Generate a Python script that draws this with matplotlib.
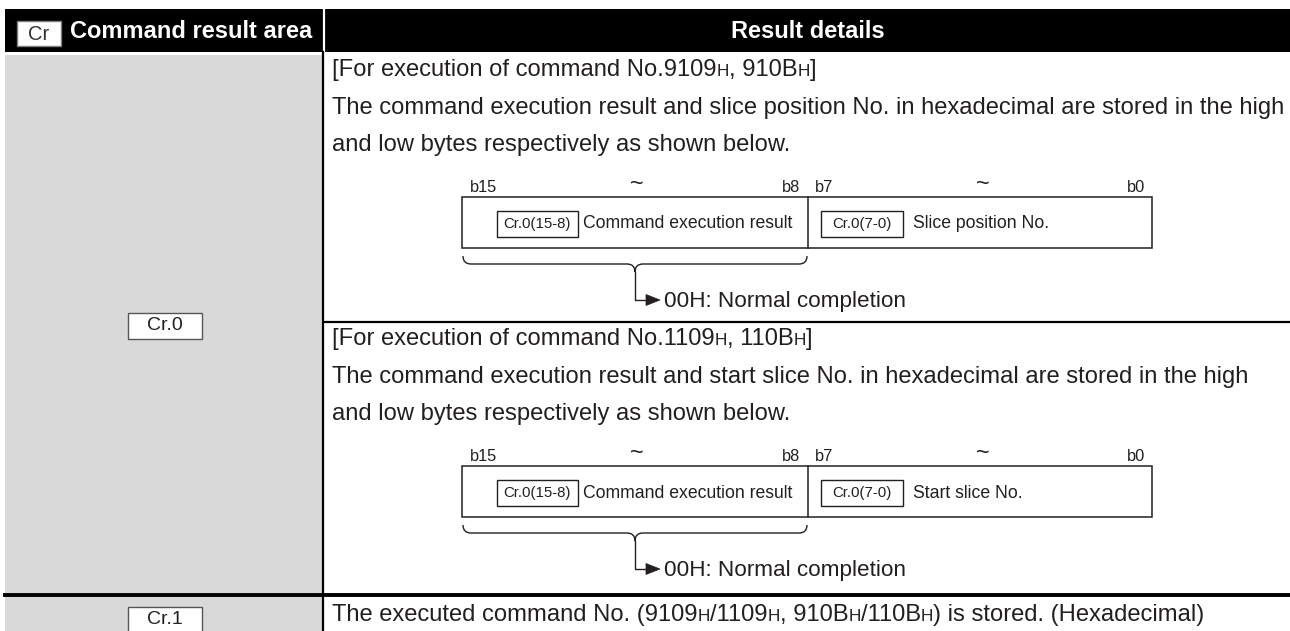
import matplotlib.pyplot as plt
from matplotlib.patches import Rectangle, PathPatch, Polygon
from matplotlib.path import Path

plt.rcParams['font.family'] = ['Liberation Sans', 'DejaVu Sans']

# text content
HEADER_TAG = "Cr"
HEADER_LEFT = "Command result area"
HEADER_RIGHT = "Result details"
ROW_LABELS = ["Cr.0", "Cr.1"]

# runs: (text, small "H" suffix flag)
SECTION_TITLES = [
    [("[For execution of command No.9109", 0), ("H", 1), (", 910B", 0), ("H", 1), ("]", 0)],
    [("[For execution of command No.1109", 0), ("H", 1), (", 110B", 0), ("H", 1), ("]", 0)],
]
SECTION_LINE2 = [
    "The command execution result and slice position No. in hexadecimal are stored in the high",
    "The command execution result and start slice No. in hexadecimal are stored in the high",
]
SECTION_LINE3 = "and low bytes respectively as shown below."
BIT_LABELS = ["b15", "b8", "b7", "b0"]
HIGH_TAG = "Cr.0(15-8)"
HIGH_TEXT = "Command execution result"
LOW_TAG = "Cr.0(7-0)"
LOW_TEXTS = ["Slice position No.", "Start slice No."]
COMPLETION = "00H: Normal completion"
CR1_RUNS = [("The executed command No. (9109", 0), ("H", 1), ("/1109", 0), ("H", 1),
            (", 910B", 0), ("H", 1), ("/110B", 0), ("H", 1),
            (") is stored. (Hexadecimal)", 0)]

INK = "#231f20"
GRAY = "#d9d9d9"
BODY = 17.1


def draw_runs(ax, x, y, runs, size, color=INK):
    renderer = ax.figure.canvas.get_renderer()
    for s, small in runs:
        t = ax.text(x, y, s, fontsize=size * 0.72 if small else size,
                    va="baseline", ha="left", color=color)
        x += t.get_window_extent(renderer).width


def draw_brace(ax, x0, x1, ytop, r):
    xm = (x0 + x1) / 2
    verts = [(x0, ytop), (x0, ytop + r), (x0 + r, ytop + r),
             (xm - r, ytop + r), (xm, ytop + r), (xm, ytop + 2 * r),
             (xm, ytop + r), (xm + r, ytop + r),
             (x1 - r, ytop + r), (x1, ytop + r), (x1, ytop)]
    codes = [Path.MOVETO, Path.CURVE3, Path.CURVE3,
             Path.LINETO, Path.CURVE3, Path.CURVE3,
             Path.CURVE3, Path.CURVE3,
             Path.LINETO, Path.CURVE3, Path.CURVE3]
    ax.add_patch(PathPatch(Path(verts, codes), fill=False, lw=1.0, ec=INK))
    return xm, ytop + 2 * r


def draw_section(ax, dy, k):
    draw_runs(ax, 332, 76 + dy, SECTION_TITLES[k], BODY)
    ax.text(332, 114 + dy, SECTION_LINE2[k], fontsize=BODY, va="baseline", color=INK)
    ax.text(332, 151 + dy, SECTION_LINE3, fontsize=BODY, va="baseline", color=INK)

    # bit labels
    ax.text(470, 192 + dy, BIT_LABELS[0], fontsize=11.8, va="baseline", color=INK)
    ax.text(800, 192 + dy, BIT_LABELS[1], fontsize=11.8, va="baseline", ha="right", color=INK)
    ax.text(815, 192 + dy, BIT_LABELS[2], fontsize=11.8, va="baseline", color=INK)
    ax.text(1145, 192 + dy, BIT_LABELS[3], fontsize=11.8, va="baseline", ha="right", color=INK)
    ax.text(637, 185 + dy, "~", fontsize=17, va="center", ha="center", color=INK)
    ax.text(983, 185 + dy, "~", fontsize=17, va="center", ha="center", color=INK)

    # register box
    ax.add_patch(Rectangle((462, 197 + dy), 690, 51, fill=False, lw=1.1, ec=INK))
    ax.plot([808, 808], [197 + dy, 248 + dy], color=INK, lw=1.1)
    ax.add_patch(Rectangle((497, 211 + dy), 81, 26, fill=False, lw=1.0, ec=INK))
    ax.text(537.5, 224 + dy, HIGH_TAG, fontsize=10.8, va="center", ha="center", color=INK)
    ax.text(583, 224 + dy, HIGH_TEXT, fontsize=12.7, va="center", color=INK)
    ax.add_patch(Rectangle((821, 211 + dy), 82, 26, fill=False, lw=1.0, ec=INK))
    ax.text(862, 224 + dy, LOW_TAG, fontsize=10.8, va="center", ha="center", color=INK)
    ax.text(913, 224 + dy, LOW_TEXTS[k], fontsize=12.7, va="center", color=INK)

    # brace and arrow
    xm, ytip = draw_brace(ax, 463, 807, 256 + dy, 8)
    ax.plot([xm, xm, 648], [ytip, 300 + dy, 300 + dy], color=INK, lw=1.0)
    ax.add_patch(Polygon([(646, 294.5 + dy), (660, 300 + dy), (646, 305.5 + dy)],
                         closed=True, fc=INK, ec=INK, lw=0.5))
    ax.text(664, 307 + dy, COMPLETION, fontsize=16.2, va="baseline", color=INK)


fig = plt.figure(figsize=(12.9, 6.31), dpi=100)
ax = fig.add_axes([0, 0, 1, 1])
ax.set_xlim(0, 1290)
ax.set_ylim(631, 0)
ax.axis("off")

# header band
ax.add_patch(Rectangle((5, 9), 1285, 43, fc="black", ec="none"))
ax.plot([323.5, 323.5], [9, 52], color="white", lw=1.6)
ax.add_patch(Rectangle((17, 21), 44, 25, fc="white", ec="#7f7f7f", lw=1.0))
ax.text(39, 34, HEADER_TAG, fontsize=14.5, va="center", ha="center", color="#333333")
ax.text(70, 32, HEADER_LEFT, fontsize=17, fontweight="bold", va="center", color="white")
ax.text(808, 32, HEADER_RIGHT, fontsize=17, fontweight="bold", va="center",
        ha="center", color="white")

# left column cells
ax.add_patch(Rectangle((5, 55), 317, 538, fc=GRAY, ec="none"))
ax.add_patch(Rectangle((5, 597), 317, 40, fc=GRAY, ec="none"))
ax.plot([323, 323], [52, 631], color="black", lw=1.6)
ax.plot([324, 1290], [321.5, 321.5], color="black", lw=1.6)
ax.plot([5, 1290], [595, 595], color="black", lw=2.8)

for label, yc in zip(ROW_LABELS, [326, 620]):
    ax.add_patch(Rectangle((128, yc - 13), 74, 26, fc="white", ec="#555555", lw=1.0))
    ax.text(165, yc, label, fontsize=14, va="center", ha="center", color=INK)

draw_section(ax, 0, 0)
draw_section(ax, 269, 1)

draw_runs(ax, 332, 621, CR1_RUNS, BODY)

fig.savefig("out.png", dpi=100)
